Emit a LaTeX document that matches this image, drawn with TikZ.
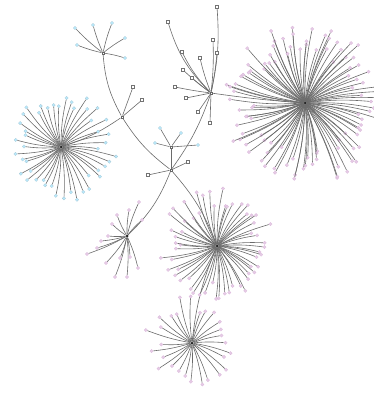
\documentclass[tikz,border=0pt]{standalone}
\begin{document}
\begin{tikzpicture}[x=1pt,y=-1pt,
 edge/.style={draw=black!58, line width=0.6pt},
 leafc/.style={circle, inner sep=0pt, minimum size=3.4pt, fill=cyan!28, draw=cyan!40!gray!60, line width=0.2pt},
 leafp/.style={circle, inner sep=0pt, minimum size=3.4pt, fill=violet!20, draw=violet!30, line width=0.2pt},
 leafg/.style={rectangle, inner sep=0pt, minimum size=2.8pt, fill=white, draw=black!55, line width=0.35pt},
 hub/.style={circle, inner sep=0pt, minimum size=3pt, fill=black!85},
 junc/.style={rectangle, inner sep=0pt, minimum size=2.6pt, fill=white, draw=black!60, line width=0.35pt}]
\useasboundingbox (0,0) rectangle (374,393);
\pgfmathsetseed{11}
% hubs and junctions
\node[hub] (A) at (61,147) {};
\node[hub] (B) at (305,103) {};
\node[junc] (C) at (211,93) {};
\node[junc] (D) at (103,53) {};
\node[junc] (E) at (122,117) {};
\node[junc] (F) at (171,147) {};
\node[junc] (G) at (171,170) {};
\node[hub] (H) at (127,236) {};
\node[hub] (I) at (217,246) {};
\node[hub] (J) at (192,343) {};
% backbone
\draw[edge] (D) to[bend right=12] (E);
\draw[edge] (E) to[bend left=8] (A);
\draw[edge] (E) to[bend right=10] (G);
\draw[edge] (C) to[bend left=8] (G);
\draw[edge] (F) -- (G);
\draw[edge] (C) to[bend right=2] (B);
\draw[edge] (G) to[bend left=12] (H);
\draw[edge] (G) to[bend left=10] (I);
\draw[edge] (I) to[bend right=8] (J);
% small fixed leaves
\foreach \p [count=\k] in {(75,28),(93,25),(112,23),(125,38),(125,58),(77,45)}{
  \node[leafc] (D-\k) at \p {};
  \draw[edge] (D) to[bend left=4] (D-\k);}
\foreach \p [count=\k] in {(133,87),(142,100)}{
  \node[leafg] (E-\k) at \p {};
  \draw[edge] (E) -- (E-\k);}
\foreach \p [count=\k] in {(160,128),(181,133),(155,143),(198,145)}{
  \node[leafc] (F-\k) at \p {};
  \draw[edge] (F) -- (F-\k);}
\foreach \p [count=\k] in {(148,175),(188,162)}{
  \node[leafg] (G-\k) at \p {};
  \draw[edge] (G) -- (G-\k);}
\foreach \p/\b [count=\k] in {(168,22)/14,(182,52)/8,(217,7)/-8,(213,40)/-4,(217,53)/-3,(200,58)/4,(183,70)/3,(192,78)/2,(175,87)/2,(186,98)/0,(198,112)/0,(210,123)/0}{
  \node[leafg] (C-\k) at \p {};
  \draw[edge] (C) to[bend left=\b] (C-\k);}
\foreach \p [count=\k] in {(117,215),(129,210),(139,202),(142,220),(108,236),(97,248),(87,254),(106,263),(115,277),(127,277),(138,268),(130,257),(112,224),(120,258),(101,241)}{
  \node[leafp] (H-\k) at \p {};
  \draw[edge] (H) to[bend left=5] (H-\k);}
% star clusters
\foreach \h/\n/\rmin/\rmax/\sty/\bend in {A/46/22/57/leafc/6, B/104/28/82/leafp/6, I/58/22/58/leafp/6, J/28/18/48/leafp/5}{
  \foreach \i in {1,...,\n}{
    \pgfmathsetmacro\ang{\i/\n*360 + 3*rand}
    \pgfmathsetmacro\rad{\rmin + (\rmax-\rmin)*(0.4+0.6*rnd)}
    \node[\sty] (\h-\i) at ([shift={(\ang:\rad)}]\h) {};
    \draw[edge] (\h) to[bend left=\bend] (\h-\i);
  }
}
\end{tikzpicture}
\end{document}
